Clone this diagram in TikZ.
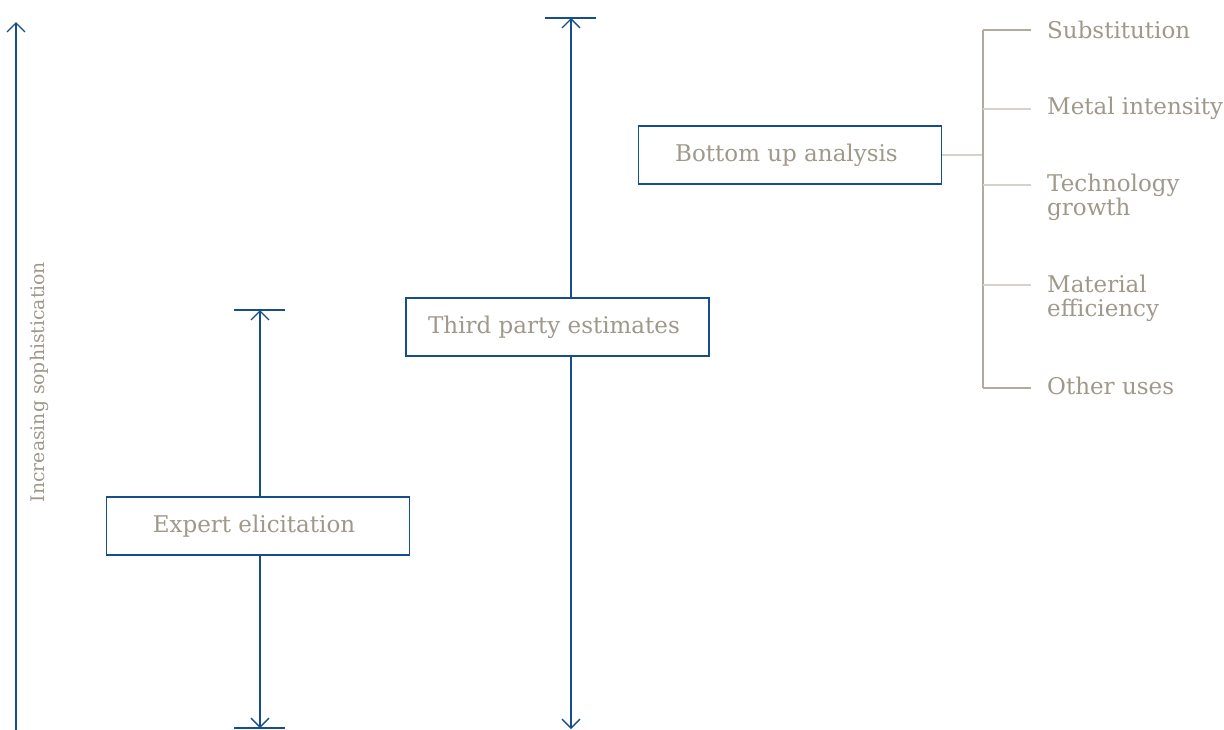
\documentclass[tikz,border=0pt]{standalone}
\usepackage{fontspec}
\setmainfont{DejaVu Serif}
\usetikzlibrary{arrows.meta}
\definecolor{navy}{RGB}{22,78,140}
\definecolor{taupe}{RGB}{160,152,138}
\definecolor{treedark}{RGB}{178,170,158}
\definecolor{treelight}{RGB}{214,209,201}
\begin{document}
\begin{tikzpicture}[x=1pt,y=-1pt,
  conn/.style={draw=navy,line width=1.3pt},
  tip/.style={-{Straight Barb[length=9pt,width=18pt,line width=1.3pt]}},
  endbar/.style={draw=navy,line width=2.6pt},
  boxnode/.style={draw=navy,line width=1.2pt,fill=white,minimum width=303pt,minimum height=58pt,inner sep=0pt,text=taupe,font=\fontsize{23}{26}\selectfont},
  lbl/.style={text=taupe,font=\fontsize{23}{24}\selectfont,anchor=west,align=left,inner sep=0pt},
  trunk/.style={draw=treedark,line width=1.3pt},
  branchdark/.style={draw=treedark,line width=1.3pt},
  branchlight/.style={draw=treelight,line width=1.3pt}]
\useasboundingbox (0,0) rectangle (1224,729);
% axis
\coordinate (axb) at (16,735);
\coordinate (axt) at (16,22);
\draw[conn,tip] (axb) -- (axt);
\node[rotate=90,text=taupe,font=\fontsize{18.8}{22}\selectfont] (axlbl) at (39,382) {Increasing sophistication};
% expert elicitation
\coordinate (e1) at (260,310);
\coordinate (e2) at (260,728);
\draw[endbar] (234,310) -- (285,310);
\draw[endbar] (234,728) -- (285,728);
\node[boxnode] (ee) at (258,526) {\hspace*{-8pt}Expert elicitation};
\draw[conn,tip] (ee.north -| e1) -- (e1);
\draw[conn,tip] (ee.south -| e2) -- (e2);
% third party
\coordinate (t1) at (571,18);
\coordinate (t2) at (571,729);
\draw[endbar] (545,18) -- (596,18);
\node[boxnode] (tp) at (557.5,327) {\hspace*{-7pt}Third party estimates};
\draw[conn,tip] (tp.north -| t1) -- (t1);
\draw[conn,tip] (tp.south -| t2) -- (t2);
% bottom up
\node[boxnode] (bu) at (790,155) {\hspace*{-7pt}Bottom up analysis};
\coordinate (j) at (983,155);
\coordinate (jt) at (983,30);
\coordinate (jb) at (983,388);
\draw[branchlight] (bu.east) -- (j);
\draw[trunk] (jt) -- (jb);
\node[lbl] (s1) at (1047,30) {Substitution};
\node[lbl] (s2) at (1047,108) {Metal intensity};
\node[lbl] (s3) at (1047,197) {Technology\\growth};
\node[lbl] (s4) at (1047,298) {Material\\efficiency};
\node[lbl] (s5) at (1047,386) {Other uses};
\draw[branchdark] (jt) -- (1031,30);
\draw[branchlight] (983,109) -- (1031,109);
\draw[branchlight] (983,185) -- (1031,185);
\draw[branchlight] (983,285) -- (1031,285);
\draw[branchdark] (jb) -- (1031,388);
\end{tikzpicture}
\end{document}
